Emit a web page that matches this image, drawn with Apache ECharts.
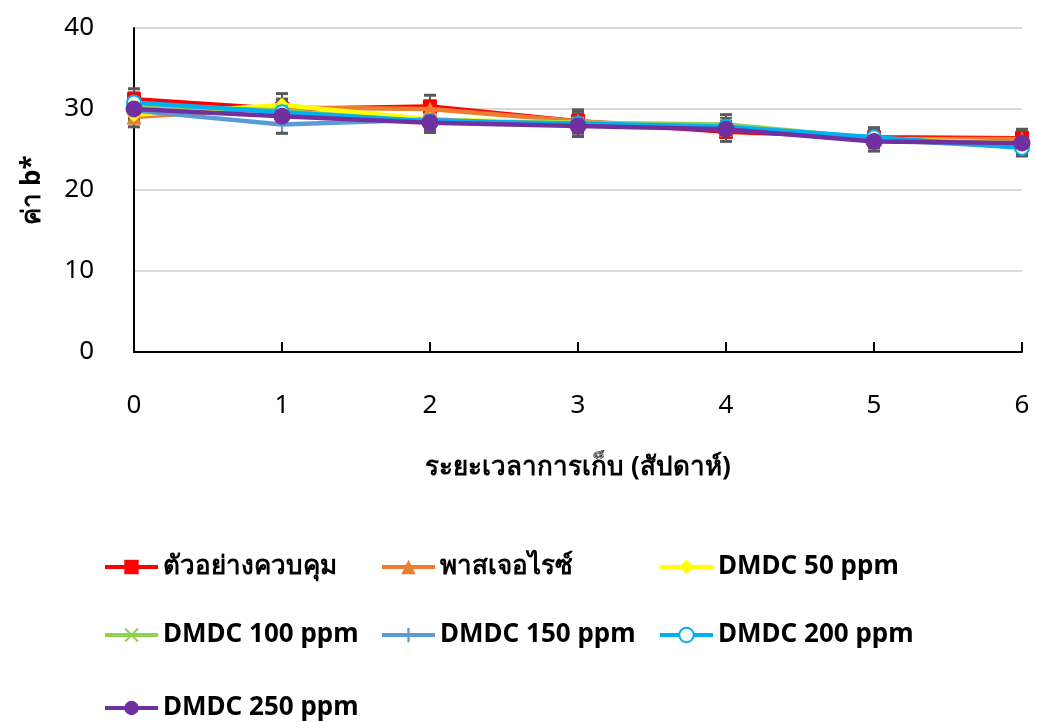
<!DOCTYPE html>
<html>
<head>
<meta charset="utf-8">
<script src="https://cdn.jsdelivr.net/npm/echarts@6/dist/echarts.min.js"></script>
<style>
  html, body { margin: 0; padding: 0; background: #fff; }
  #chart { width: 1037px; height: 722px; }
</style>
</head>
<body>
<div id="chart"></div>
<script>
// Storage time (weeks)
const weeks = [0, 1, 2, 3, 4, 5, 6];
const yTicks = [0, 10, 20, 30, 40];

const seriesNames = ['ตัวอย่างควบคุม', 'พาสเจอไรซ์', 'DMDC 50 ppm', 'DMDC 100 ppm', 'DMDC 150 ppm', 'DMDC 200 ppm', 'DMDC 250 ppm'];

// b* value per treatment
const control = [31.2, 30.0, 30.3, 28.5, 27.2, 26.5, 26.4];
const pasteurized = [29.0, 30.2, 30.0, 28.5, 27.5, 26.3, 26.3];
const dmdc50 = [29.3, 30.5, 28.7, 28.3, 27.8, 26.3, 25.8];
const dmdc100 = [30.5, 29.8, 28.4, 28.3, 28.1, 26.4, 25.6];
const dmdc150 = [29.8, 28.1, 28.7, 28.0, 27.6, 26.2, 25.3];
const dmdc200 = [30.8, 29.6, 28.5, 28.2, 27.8, 26.5, 25.2];
const dmdc250 = [30.0, 29.1, 28.3, 27.9, 27.5, 26.0, 25.8];

// standard deviations
const errControl = [1.3, 1.2, 1.4, 1.4, 1.2, 1.0, 1.1];
const errPasteurized = [1.2, 1.0, 1.0, 1.2, 1.0, 1.0, 1.0];
const errDmdc50 = [1.0, 1.4, 1.0, 1.0, 1.0, 1.0, 1.0];
const errDmdc100 = [1.0, 1.0, 1.0, 1.0, 1.2, 1.0, 1.0];
const errDmdc150 = [1.1, 1.1, 1.0, 1.0, 1.0, 1.0, 1.0];
const errDmdc200 = [1.2, 1.0, 1.0, 1.0, 1.0, 1.2, 1.0];
const errDmdc250 = [1.0, 1.0, 1.2, 1.3, 1.0, 1.2, 1.5];

const FONT = '"Noto Sans", sans-serif';
const X_SYMBOL = 'path://M1,0L5,4L9,0L10,1L6,5L10,9L9,10L5,6L1,10L0,9L4,5L0,1Z';
const PLUS_SYMBOL = 'path://M4.2,0H5.8V4.2H10V5.8H5.8V10H4.2V5.8H0V4.2H4.2Z';

const styles = [
  { color: '#FF0000', symbol: 'rect', size: 14 },
  { color: '#ED7D31', symbol: 'triangle', size: 15 },
  { color: '#FFFF00', symbol: 'diamond', size: 15 },
  { color: '#92D050', symbol: X_SYMBOL, size: 13 },
  { color: '#5B9BD5', symbol: PLUS_SYMBOL, size: 13 },
  { color: '#00B0F0', symbol: 'emptyCircle', size: 14 },
  { color: '#7030A0', symbol: 'circle', size: 17 }
];

const values = [control, pasteurized, dmdc50, dmdc100, dmdc150, dmdc200, dmdc250];
const errors = [errControl, errPasteurized, errDmdc50, errDmdc100, errDmdc150, errDmdc200, errDmdc250];

const lineSeries = values.map((vals, i) => ({
  name: seriesNames[i],
  type: 'line',
  data: vals.map((v, j) => [weeks[j], v]),
  symbol: styles[i].symbol,
  symbolSize: styles[i].size,
  showAllSymbol: true,
  lineStyle: { color: styles[i].color, width: 4.5 },
  itemStyle: { color: styles[i].color, borderWidth: styles[i].symbol === 'emptyCircle' ? 2 : 0 },
  z: 3 + i,
  animation: false
}));

// error bars drawn beneath the lines
const errorSeries = values.map((vals, i) => ({
  type: 'custom',
  name: seriesNames[i] + ' SD',
  silent: true,
  z: 2,
  animation: false,
  data: vals.map((v, j) => [weeks[j], v - errors[i][j], v + errors[i][j]]),
  renderItem: function (params, api) {
    const x = api.value(0);
    const lo = api.coord([x, api.value(1)]);
    const hi = api.coord([x, api.value(2)]);
    const half = 6;
    const cap = { stroke: '#595959', lineWidth: 3 };
    return {
      type: 'group',
      children: [
        { type: 'line', shape: { x1: lo[0], y1: lo[1], x2: hi[0], y2: hi[1] }, style: { stroke: '#595959', lineWidth: 2 } },
        { type: 'line', shape: { x1: lo[0] - half, y1: lo[1], x2: lo[0] + half, y2: lo[1] }, style: cap },
        { type: 'line', shape: { x1: hi[0] - half, y1: hi[1], x2: hi[0] + half, y2: hi[1] }, style: cap }
      ]
    };
  }
}));

// one legend entry per cell of a 3-column layout
const legendCols = [103, 380, 658];
const legendRows = [554, 622, 695];
const legends = seriesNames.map((name, i) => ({
  data: [name],
  left: legendCols[i % 3],
  top: legendRows[Math.floor(i / 3)],
  padding: 0,
  itemWidth: 53,
  itemHeight: 18,
  itemGap: 4,
  selectedMode: false,
  lineStyle: { width: 4 },
  textStyle: { fontFamily: FONT, fontSize: 26, fontWeight: 'bold', color: '#000' }
}));

const chart = echarts.init(document.getElementById('chart'), null, { renderer: 'canvas' });
chart.setOption({
  backgroundColor: '#FFFFFF',
  animation: false,
  grid: { left: 134, right: 15, top: 28, bottom: 370 },
  xAxis: {
    type: 'value',
    min: 0,
    max: 6,
    interval: 1,
    name: 'ระยะเวลาการเก็บ (สัปดาห์)',
    nameLocation: 'middle',
    nameGap: 103,
    nameTextStyle: { fontFamily: FONT, fontSize: 26, fontWeight: 'bold', color: '#000' },
    axisLine: { lineStyle: { color: '#000', width: 2 } },
    axisTick: { show: true, inside: true, length: 10, lineStyle: { color: '#000', width: 2 } },
    axisLabel: { fontFamily: FONT, fontSize: 26, color: '#000', margin: 41 },
    splitLine: { show: false }
  },
  yAxis: {
    type: 'value',
    min: yTicks[0],
    max: yTicks[yTicks.length - 1],
    interval: 10,
    name: 'ค่า b*',
    nameLocation: 'middle',
    nameRotate: 90,
    nameGap: 88,
    nameTextStyle: { fontFamily: FONT, fontSize: 26, fontWeight: 'bold', color: '#000' },
    axisLine: { show: true, lineStyle: { color: '#000', width: 2 } },
    axisTick: { show: false },
    axisLabel: { fontFamily: FONT, fontSize: 26, color: '#000', margin: 40 },
    splitLine: { lineStyle: { color: '#D9D9D9', width: 2 } }
  },
  legend: legends,
  series: errorSeries.concat(lineSeries)
});
</script>
</body>
</html>
